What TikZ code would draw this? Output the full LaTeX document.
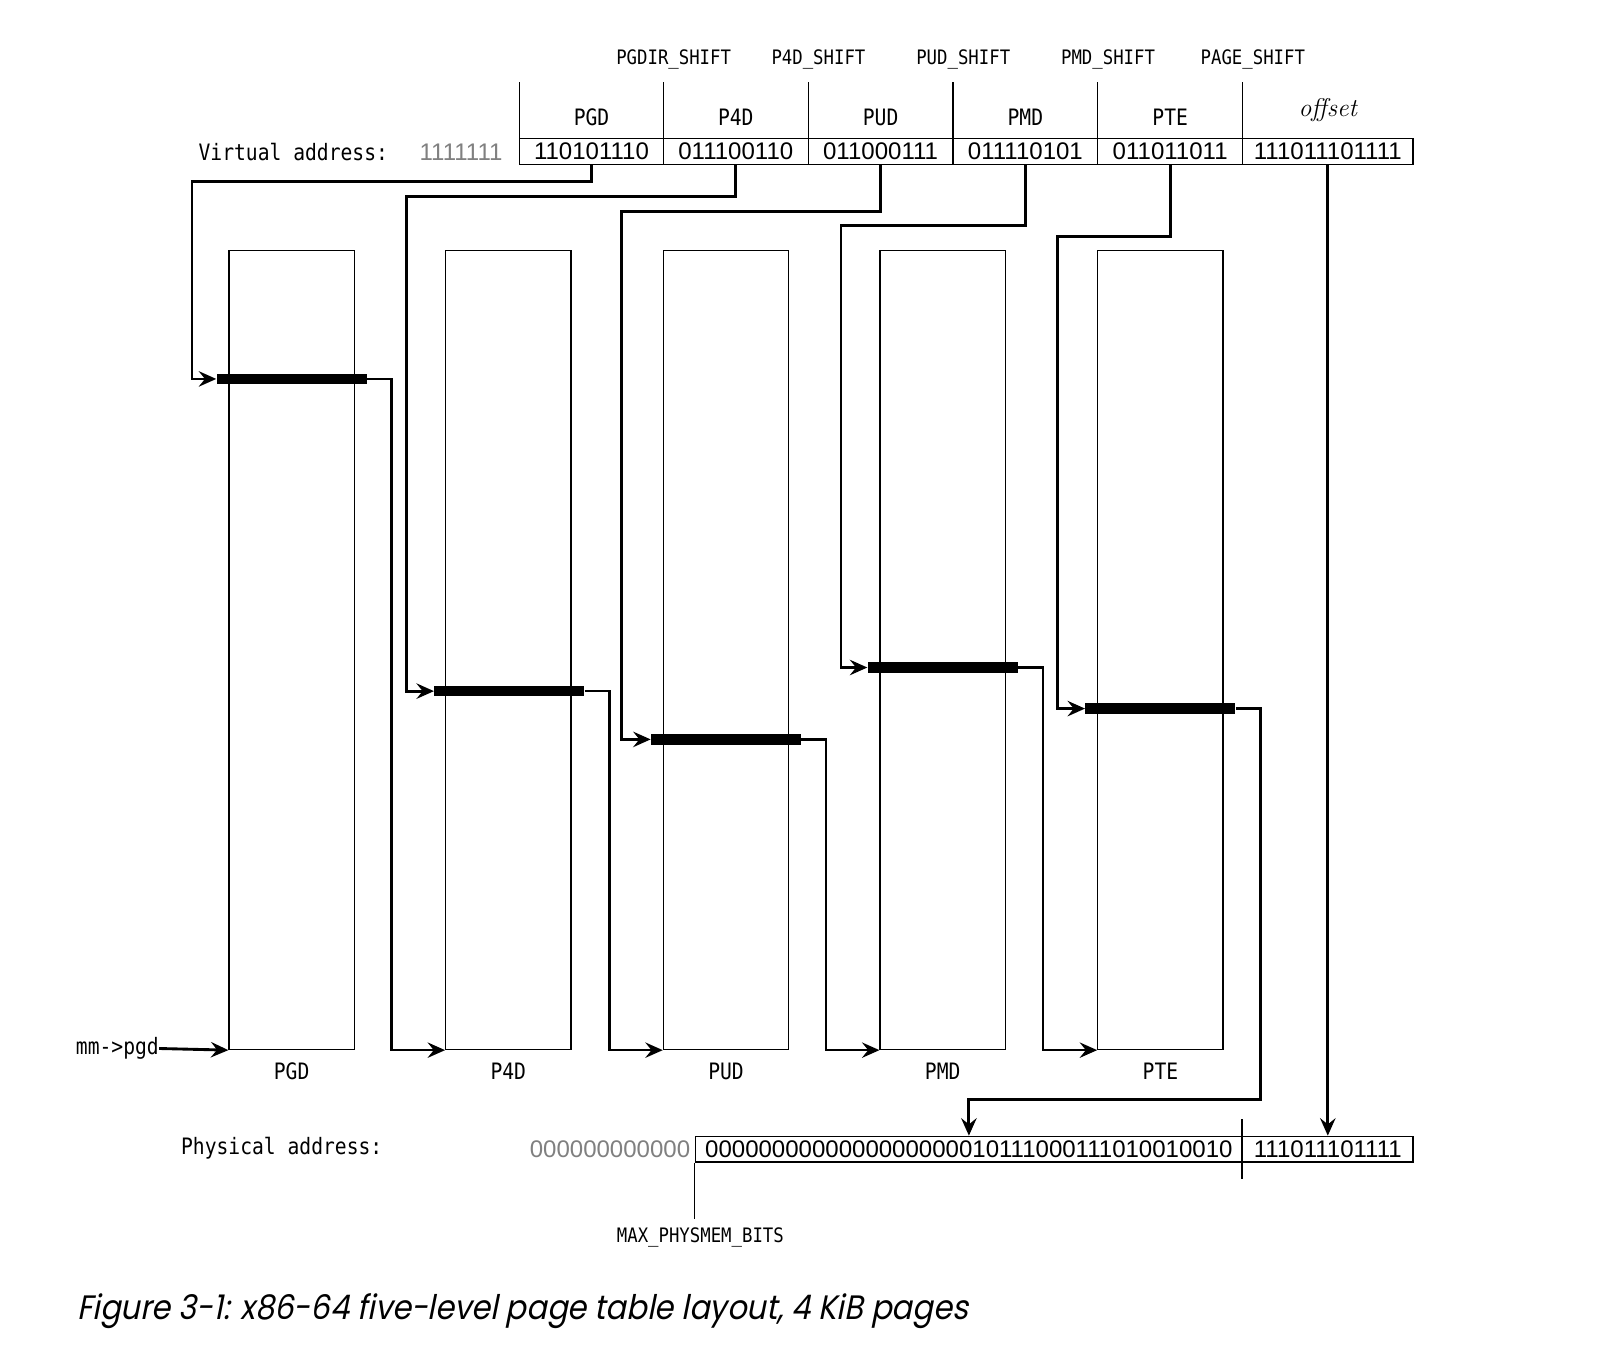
\documentclass[tikz,border=0pt]{standalone}
\usepackage{fontspec}
\usepackage{tikz}
\usetikzlibrary{positioning, arrows.meta}
\newfontfamily\codefont[FakeStretch=0.87]{DejaVu Sans Mono}
\newfontfamily\bitfont{Liberation Sans}
\newfontfamily\capfont[FakeSlant=0.2,FakeStretch=0.9]{Poppins}
\definecolor{addrgray}{HTML}{808080}
\tikzstyle{link} = [line width=1.4pt,-{Stealth[length=8.5pt,width=7.5pt,inset=3pt]}]

\begin{document}
\begin{tikzpicture}[x=0.5pt,y=-0.5pt]
    \tikzstyle{every node}=[inner sep=0pt]
    \tikzstyle{code} = [font=\codefont\fontsize{11}{13}\selectfont]
    \tikzstyle{small code} = [font=\codefont\fontsize{9.7}{12}\selectfont]
    \tikzstyle{bits} = [font=\bitfont\fontsize{11.7}{14}\selectfont]
    \tikzstyle{cell} = [bits, draw, line width=0.6pt, minimum height=12.5pt]
    \tikzstyle{ptable} = [draw, line width=0.6pt, minimum width=61pt, minimum height=389pt]
    \tikzstyle{entry} = [fill=black, minimum width=73pt, minimum height=5pt]
    \tikzstyle{flow} = [link, line width=1.15pt]

    \path[fill=white] (0,0) rectangle (1560,1330);
    \useasboundingbox (0,0) rectangle (1560,1330);

    % virtual address
    \node[code, anchor=west] (vlabel) at (193,148) {Virtual address:};
    \node[bits, text=addrgray] (vhigh) at (449,148) {1111111};
    \node[cell, minimum width=70pt] (vpgd) at (576,147.5) {110101110};
    \node[cell, minimum width=70.5pt] (vp4d) at (716.5,147.5) {011100110};
    \node[cell, minimum width=70.5pt] (vpud) at (857.5,147.5) {011000111};
    \node[cell, minimum width=70.5pt] (vpmd) at (998.5,147.5) {011110101};
    \node[cell, minimum width=70.5pt] (vpte) at (1139.5,147.5) {011011011};
    \node[cell, minimum width=83pt] (voff) at (1293,147.5) {111011101111};

    \foreach \x in {506,646,787,928,1069,1210}
        \draw[line width=0.6pt] (\x,80) -- (\x,135);
    \foreach \name/\x in {PGD/576,P4D/716.5,PUD/857.5,PMD/998.5,PTE/1139.5}
        \node[code] (h\name) at (\x,114) {\name};
    \node[font=\itshape\fontsize{12.5}{14}\selectfont] (hoff) at (1293,107) {offset};
    \foreach \txt/\x [count=\i] in {PGDIR\_SHIFT/656,P4D\_SHIFT/797,PUD\_SHIFT/938,PMD\_SHIFT/1079,PAGE\_SHIFT/1220}
        \node[small code] (shift\i) at (\x,58) {\txt};

    % tables and their entries
    \foreach \name/\lbl/\x in {pgd/PGD/284,p4d/P4D/495,pud/PUD/707,pmd/PMD/918,pte/PTE/1130}{
        \node[ptable] (t\name) at (\x,633) {};
        \node[code, below=6pt of t\name.south] (l\name) {\lbl};
    }
    \foreach \name/\x/\y in {pgd/284/369,p4d/496/673,pud/707/720,pmd/918/650,pte/1130/690}
        \node[entry] (e\name) at (\x,\y) {};

    \node[code, anchor=east] (mm) at (155,1021) {mm->pgd};
    \draw[link] (mm.east) -- (tpgd.south west);

    % physical address
    \node[code, anchor=west] (plabel) at (176,1118) {Physical address:};
    \node[bits, text=addrgray] (phigh) at (594,1119) {000000000000};
    \node[cell, minimum width=266.5pt] (pframe) at (943.5,1119) {0000000000000000000010111000111010010010};
    \node[cell, minimum width=83pt] (poff) at (1293,1119) {111011101111};
    \draw[line width=1.2pt] ([yshift=8pt]poff.north west) -- ([yshift=-8pt]poff.south west);
    \node[small code] (maxbits) at (682,1205) {MAX\_PHYSMEM\_BITS};
    \draw[line width=0.6pt] (pframe.south west) -- ++(0,55);

    % walk
    \draw[link] (vpgd.south) |- (187,177) |- (epgd.west);
    \draw[link] (vp4d.south) |- (396,191) |- (ep4d.west);
    \draw[link] (vpud.south) |- (605,206) |- (epud.west);
    \draw[link] (vpmd.south) |- (819,220) |- (epmd.west);
    \draw[link] (vpte.south) |- (1030,230) |- (epte.west);
    \draw[link] (voff.south) -- (poff.north);

    \draw[flow] (epgd.east) -- ++(24,0) |- (tp4d.south west);
    \draw[flow] (ep4d.east) -- ++(24,0) |- (tpud.south west);
    \draw[flow] (epud.east) -- ++(24,0) |- (tpmd.south west);
    \draw[flow] (epmd.east) -- ++(24,0) |- (tpte.south west);
    \draw[link] (epte.east) -- ++(24,0) |- (943.5,1071) -- (pframe.north);

    \node[anchor=west, font=\capfont\fontsize{16.5}{20}\selectfont] (caption) at (75,1277) {Figure 3-1: x86-64 five-level page table layout, 4 KiB pages};
\end{tikzpicture}
\end{document}
